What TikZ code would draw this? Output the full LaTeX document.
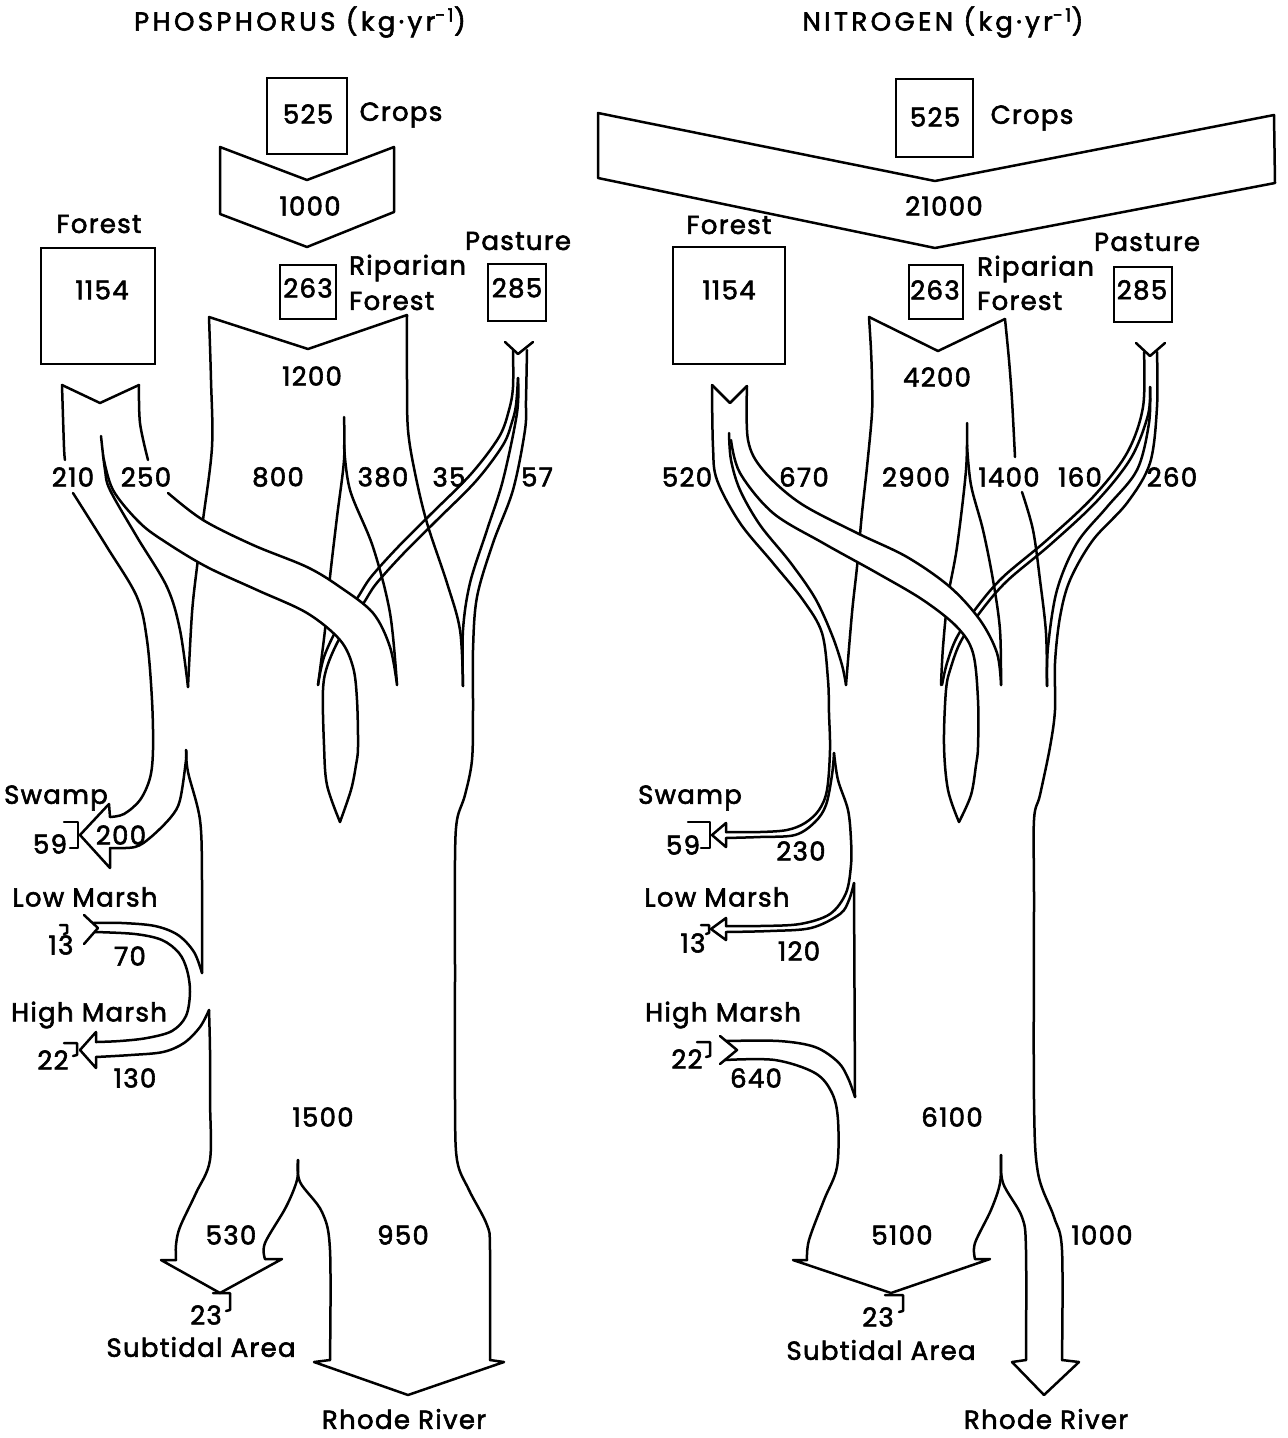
\documentclass[tikz,border=0pt]{standalone}
\usepackage{fontspec}
\setmainfont[LetterSpace=5, FakeBold=2.2]{Poppins}
\begin{document}
\begin{tikzpicture}[x=1pt,y=-1pt,
  ln/.style={line width=2.5pt, line join=round, line cap=round},
  bx/.style={draw, line width=2.5pt, inner sep=0pt},
  lb/.style={font=\fontsize{26}{29}\selectfont, inner sep=0pt},
  ttl/.style={font=\fontsize{26}{29}\selectfont\addfontfeature{LetterSpace=13}, inner sep=0pt},
  sm/.style={smooth, tension=0.55}]
\useasboundingbox (0,0) rectangle (1288,1438);
\fill[white] (0,0) rectangle (1288,1438);

%================ PHOSPHORUS =================
\node[ttl] (tP) at (300,22) {PHOSPHORUS (kg·yr\textsuperscript{-1})};
\node[bx, minimum width=80pt, minimum height=76pt] (cropsP) at (307,116) {};
\node[lb] (cropsPv) at (308,114) {525};
\node[lb] (cropsPl) at (401,115) {Crops};
\draw[ln] (220,147) -- (307,180) -- (394,147) -- (394,212) -- (307,247) -- (220,214) -- cycle;
\node[lb] (fcP) at (310,206) {1000};
\node[lb] (forPl) at (99,224) {Forest};
\node[bx, minimum width=114pt, minimum height=116pt] (forP) at (98,306) {};
\node[lb] (forPv) at (102,290) {1154};
\node[bx, minimum width=56pt, minimum height=54pt] (ripP) at (308,292) {};
\node[lb] (ripPv) at (308,288) {263};
\node[lb, anchor=west] (ripPl1) at (349,268) {Riparian};
\node[lb, anchor=west] (ripPl2) at (349,301) {Forest};
\node[lb] (pasPl) at (518,241) {Pasture};
\node[bx, minimum width=58pt, minimum height=57pt] (pasP) at (517,292.5) {};
\node[lb] (pasPv) at (517,288) {285};

% riparian flow
\draw[ln] (209,317) -- (308,349) -- (407,315);
\draw[ln] plot[sm] coordinates {(209,317)(211,380)(212,447)(203,520)(197,567)(192,613)(188,687)};
\draw[ln] plot[sm] coordinates {(407,315)(407,380)(408,430)(415,473)(427,523)(447,583)(460,630)(463,686)};
\draw[ln] plot[sm] coordinates {(344,417)(344,460)(337,517)(330,577)(325,630)(318,685)};
\draw[ln] plot[sm] coordinates {(344,445)(350,490)(373,547)(390,613)(397,685)};
% pasture flow
\draw[ln] (505,342) -- (518,354) -- (533,342);
\draw[ln] plot[sm] coordinates {(513,350)(513,387)(509,410)(499,437)(471,474)(431,514)(398,547)(371,577)(358,597)(338,627)(324,657)(318,685)};
\draw[ln] plot[sm] coordinates {(518,378)(516,405)(512,422)(503,445)(476,481)(436,521)(403,554)(376,584)(363,604)(342,634)(328,664)(323,690)(324,745)(327,785)(340,822)};
\draw[ln] plot[sm] coordinates {(518,378)(517,413)(503,480)(487,530)(470,583)(463,630)(463,686)};
\draw[ln] plot[sm] coordinates {(527,350)(526,400)(525,430)(513,490)(493,543)(477,597)(473,650)(473,710)(472,760)(465,795)(457,820)(455,860)(455,973)(455,1100)(457,1160)(469,1190)(487,1225)(490,1250)(490,1360)};
% forest flow
\draw[ln] (62,385) -- (100,403) -- (139,385);
\draw[ln] plot[sm] coordinates {(62,385)(64,447)(65,460)};
\draw[ln] plot[sm] coordinates {(73,493)(107,547)(137,597)(147,640)(152,700)(153,750)(150,778)(140,800)(124,814)(110,817)};
\draw[ln] (110,817) -- (109,804) -- (80,835) -- (110,868) -- (110,848);
\draw[ln] plot[sm] coordinates {(110,848)(135,847)(151,837)(171,817)(180,800)(186,760)(186,750)};
\draw[ln] plot[sm] coordinates {(186,750)(188,772)(200,820)(202,880)(202,973)};
\draw[ln] plot[sm] coordinates {(101,436)(105,470)(110,490)(137,537)(167,587)(180,630)(188,687)};
\draw[ln] plot[sm] coordinates {(139,385)(140,423)(148,460)};
\fill[white] plot[sm] coordinates {(103,455)(113,490)(140,523)(167,543)(207,567)(257,590)(307,613)(340,640)(353,667)(357,700)} -- plot[sm] coordinates {(397,685)(390,647)(373,613)(340,587)(307,567)(253,545)(203,520)(168,493)} -- cycle;
\draw[ln] plot[sm] coordinates {(103,455)(113,490)(140,523)(167,543)(207,567)(257,590)(307,613)(340,640)(353,667)(357,700)(358,747)(356,765)(351,790)(340,822)};
\draw[ln] plot[sm] coordinates {(168,493)(203,520)(253,545)(307,567)(340,587)(373,613)(390,647)(397,685)};
% marshes
\draw[ln] (84,915) -- (98,928) -- (84,944);
\draw[ln] plot[sm] coordinates {(93,923)(122,923)(155,926)(178,935)(194,952)(202,973)};
\draw[ln] plot[sm] coordinates {(95,932)(135,934)(162,940)(179,953)(187,970)(190,992)(186,1016)(172,1031)(147,1038)(120,1041)(96,1042)};
\draw[ln] (96,1042) -- (96,1032) -- (80,1050) -- (96,1068) -- (96,1057);
\draw[ln] plot[sm] coordinates {(96,1057)(131,1055)(163,1052)(184,1043)(200,1027)(209,1010)};
\draw[ln] plot[sm] coordinates {(209,1010)(210,1050)(210,1100)(210,1160)(196,1193)(180,1227)(176,1245)(176,1260)};
% outlets
\draw[ln] (176,1260) -- (161,1260) -- (220,1293) -- (282,1259) -- (265,1259);
\draw[ln] plot[sm] coordinates {(265,1259)(265,1243)(286,1207)(297,1180)(298,1160)};
\draw[ln] plot[sm] coordinates {(298,1160)(300,1182)(322,1212)(330,1250)(330,1360)};
\draw[ln] (330,1360) -- (314,1362) -- (408,1395) -- (504,1362) -- (490,1360);
% brackets
\draw[ln] (64,822) -- (78,822) -- (78,848) -- (70,848);
\draw[ln] (60,925) -- (67,925) -- (67,933) -- (64,934);
\draw[ln] (64,1043) -- (77,1043) -- (77,1055) -- (73,1056);
\draw[ln] (213,1293) -- (230,1293) -- (230,1310) -- (226,1311);
% labels
\node[lb] (pR) at (312,376) {1200};
\node[lb] (p210) at (73,477) {210};
\node[lb] (p250) at (146,477) {250};
\node[lb] (p800) at (278,477) {800};
\node[lb] (p380) at (383,477) {380};
\node[lb] (p35) at (449,477) {35};
\node[lb] (p57) at (537,477) {57};
\node[lb] (pSw) at (56,798) {Swamp};
\node[lb] (p59) at (50,844) {59};
\node[lb] (p200) at (121,835) {200};
\node[lb] (pLM) at (85,897) {Low Marsh};
\node[lb] (p13) at (61,945) {13};
\node[lb] (p70) at (130,956) {70};
\node[lb] (pHM) at (89,1015) {High Marsh};
\node[lb] (p22) at (53,1060) {22};
\node[lb] (p130) at (135,1078) {130};
\node[lb] (p1500) at (323,1117) {1500};
\node[lb] (p530) at (231,1235) {530};
\node[lb] (p950) at (403,1235) {950};
\node[lb] (p23) at (206,1315) {23};
\node[lb] (pSub) at (201,1347) {Subtidal Area};
\node[lb] (pRh) at (404,1419) {Rhode River};

%================ NITROGEN =================
\node[ttl] (tN) at (943,22) {NITROGEN (kg·yr\textsuperscript{-1})};
\node[bx, minimum width=77pt, minimum height=78pt] (cropsN) at (934.5,118) {};
\node[lb] (cropsNv) at (935,117) {525};
\node[lb] (cropsNl) at (1032,118) {Crops};
\draw[ln] (598,113) -- (935,181) -- (1274,115) -- (1275,183) -- (935,248) -- (598,178) -- cycle;
\node[lb] (fcN) at (944,206) {21000};
\node[lb] (forNl) at (729,225) {Forest};
\node[bx, minimum width=112pt, minimum height=117pt] (forN) at (729,305.5) {};
\node[lb] (forNv) at (729,290) {1154};
\node[bx, minimum width=54pt, minimum height=54pt] (ripN) at (936,292) {};
\node[lb] (ripNv) at (935,290) {263};
\node[lb, anchor=west] (ripNl1) at (977,269) {Riparian};
\node[lb, anchor=west] (ripNl2) at (977,301) {Forest};
\node[lb] (pasNl) at (1147,242) {Pasture};
\node[bx, minimum width=58pt, minimum height=55pt] (pasN) at (1143,294.5) {};
\node[lb] (pasNv) at (1142,290) {285};

% riparian flow
\draw[ln] (869,317) -- (938,351) -- (1005,319);
\draw[ln] plot[sm] coordinates {(869,317)(871,350)(872,380)(872,413)(867,467)(862,513)(857,567)(852,613)(846,685)};
\draw[ln] plot[sm] coordinates {(1005,319)(1009,360)(1012,400)(1015,457)};
\draw[ln] plot[sm] coordinates {(1022,492)(1033,530)(1040,580)(1046,633)(1047,686)};
\draw[ln] plot[sm] coordinates {(967,423)(966,470)(957,547)(948,597)(943,647)(941,685)};
\draw[ln] plot[sm] coordinates {(967,445)(971,485)(983,530)(993,580)(1000,630)(1001,685)};
% pasture flow
\draw[ln] (1136,343) -- (1150,356) -- (1165,343);
\draw[ln] plot[sm] coordinates {(1144,352)(1143,407)(1127,453)(1093,497)(1047,540)(1003,577)(977,607)(957,637)(947,663)(942,685)};
\draw[ln] plot[sm] coordinates {(1150,387)(1148,415)(1131,458)(1097,501)(1051,544)(1007,581)(981,611)(961,641)(951,667)(946,690)(944,745)(948,790)(959,822)};
\draw[ln] plot[sm] coordinates {(1150,387)(1149,423)(1137,470)(1107,507)(1077,543)(1057,590)(1048,647)(1047,686)};
\draw[ln] plot[sm] coordinates {(1157,352)(1157,407)(1150,463)(1127,503)(1093,540)(1070,580)(1060,617)(1055,663)(1055,710)(1050,747)(1040,795)(1034,820)(1034,900)(1034,1100)(1038,1173)(1054,1217)(1062,1250)(1062,1360)};
% forest flow
\draw[ln] (712,385) -- (730,403) -- (747,386);
\draw[ln] plot[sm] coordinates {(712,385)(713,447)(717,480)(740,523)(773,563)(803,600)(822,633)(828,680)(829,713)(830,750)(827,790)(819,810)(805,823)(787,830)(760,832)(726,832)};
\draw[ln] (726,832) -- (726,823) -- (712,835) -- (726,847) -- (726,838);
\draw[ln] plot[sm] coordinates {(726,838)(760,837)(795,835)(815,822)(826,805)(832,775)(834,753)};
\draw[ln] plot[sm] coordinates {(834,753)(838,780)(848,810)(851,840)(851,865)(846,893)(830,914)(800,924)(760,926)(726,926)};
\draw[ln] (726,926) -- (726,918) -- (711,929) -- (726,940) -- (726,932);
\draw[ln] plot[sm] coordinates {(726,932)(770,931)(811,928)(840,914)(849,900)(854,883)};
\draw[ln] (854,883) -- (855,1097);
\draw[ln] plot[sm] coordinates {(855,1097)(848,1078)(838,1062)(815,1047)(779,1041)(726,1041)};
\draw[ln] (720,1036) -- (737,1050) -- (720,1064);
\draw[ln] plot[sm] coordinates {(725,1060)(775,1060)(815,1073)(832,1093)(838,1120)(837,1167)(824,1200)(809,1240)(807,1260)};
\draw[ln] (807,1260) -- (793,1260) -- (891,1293) -- (990,1259) -- (975,1259);
\draw[ln] plot[sm] coordinates {(975,1259)(975,1243)(991,1210)(1000,1183)(1001,1155)};
\draw[ln] plot[sm] coordinates {(1001,1155)(1003,1183)(1022,1217)(1026,1250)(1026,1360)};
\draw[ln] (1026,1360) -- (1012,1362) -- (1044,1395) -- (1079,1362) -- (1062,1360);
\draw[ln] plot[sm] coordinates {(729,433)(731,460)(740,490)(760,525)(790,562)(815,598)(832,635)(842,665)(846,685)};
\fill[white] plot[sm] coordinates {(731,447)(740,473)(773,513)(823,543)(877,573)(923,600)(957,627)(973,653)(978,700)} -- plot[sm] coordinates {(1001,685)(997,653)(980,620)(950,587)(907,557)(857,533)(800,503)(763,470)(748,440)} -- cycle;
\draw[ln] plot[sm] coordinates {(731,440)(740,473)(773,513)(823,543)(877,573)(923,600)(957,627)(973,653)(978,700)(978,747)(976,765)(971,795)(959,822)};
\draw[ln] plot[sm] coordinates {(747,386)(748,440)(763,470)(800,503)(857,533)(907,557)(950,587)(980,620)(997,653)(1001,685)};
% brackets
\draw[ln] (688,822) -- (710,822) -- (710,848) -- (701,848);
\draw[ln] (701,925) -- (709,925) -- (709,933) -- (706,934);
\draw[ln] (697,1042) -- (710,1042) -- (710,1056) -- (706,1057);
\draw[ln] (885,1295) -- (903,1295) -- (903,1311) -- (899,1312);
% labels
\node[lb] (nR) at (937,377) {4200};
\node[lb] (n520) at (687,477) {520};
\node[lb] (n670) at (804,477) {670};
\node[lb] (n2900) at (916,477) {2900};
\node[lb] (n1400) at (1009,477) {1400};
\node[lb] (n160) at (1080,477) {160};
\node[lb] (n260) at (1172,477) {260};
\node[lb] (nSw) at (690,798) {Swamp};
\node[lb] (n59) at (683,845) {59};
\node[lb] (n230) at (801,851) {230};
\node[lb] (nLM) at (717,897) {Low Marsh};
\node[lb] (n13) at (693,943) {13};
\node[lb] (n120) at (799,951) {120};
\node[lb] (nHM) at (723,1015) {High Marsh};
\node[lb] (n22) at (687,1059) {22};
\node[lb] (n640) at (756,1078) {640};
\node[lb] (n6100) at (952,1117) {6100};
\node[lb] (n5100) at (902,1235) {5100};
\node[lb] (n1000) at (1102,1235) {1000};
\node[lb] (n23) at (878,1317) {23};
\node[lb] (nSub) at (881,1350) {Subtidal Area};
\node[lb] (nRh) at (1046,1419) {Rhode River};
\end{tikzpicture}
\end{document}
